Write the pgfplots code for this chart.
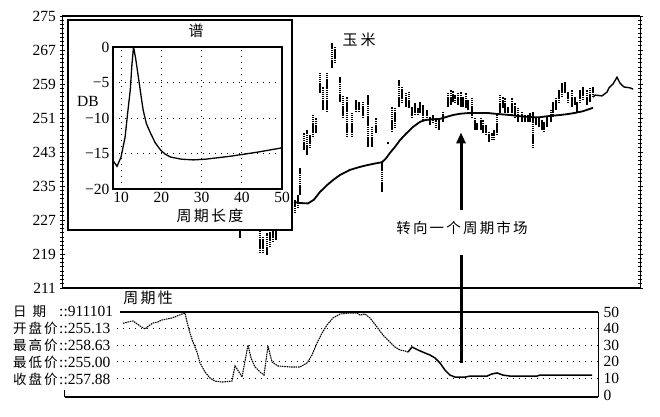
\documentclass[border=0pt]{standalone}
\usepackage{pgfplots}
\pgfplotsset{compat=1.18}
\usepackage{pgfplotstable}
\usepackage{fontspec}
\setmainfont{Liberation Serif}
\newfontfamily\cjk[LetterSpace=15]{Noto Sans CJK SC}
\usetikzlibrary{arrows.meta}

\pgfplotstableread{
x l h
240 222.8 224.6
260 219.2 224.6
263 219.2 223.0
267 218.8 223.9
270 220.6 224.2
273 221.8 224.6
276 222.3 224.6
295 228.6 231.7
298 229.8 232.9
300 232.9 239.2
304 243.5 247.5
307 242.3 248.2
310 243.9 247.0
313 246.5 251.7
316 247.5 251.0
320 256.9 261.6
323 252.9 258.3
327 252.4 261.6
332 262.8 268.6
335 263.9 267.7
340 254.8 260.6
343 251.0 256.4
347 246.5 255.9
352 246.5 252.4
356 252.4 255.2
359 252.4 254.8
363 251.0 254.8
368 244.2 256.4
372 244.2 248.9
376 247.5 251.0
382 233.6 240.6
388 244.9 245.4
392 247.7 253.6
395 248.6 253.4
399 253.6 259.9
402 254.5 258.3
406 253.6 256.9
409 253.4 257.1
412 251.0 253.6
415 251.7 254.5
418 251.7 253.4
420 252.2 254.8
423 250.5 254.1
427 250.5 252.9
430 249.4 251.2
433 249.8 251.7
436 248.6 251.0
439 248.2 251.0
443 250.1 252.4
448 253.6 256.9
451 254.1 257.6
453 254.8 257.4
455 254.5 256.4
458 254.1 256.9
461 253.6 257.1
463 253.6 255.9
466 253.4 256.9
468 252.9 255.2
472 251.0 255.9
475 248.2 251.0
477 248.2 249.8
481 248.2 251.0
483 247.5 250.5
486 247.0 249.4
489 245.4 247.7
492 245.8 247.5
494 245.8 248.2
497 247.0 251.7
500 252.2 256.4
503 253.4 255.9
505 252.2 255.7
508 251.7 253.6
512 251.7 255.7
515 251.0 254.5
518 250.1 253.4
522 250.1 252.4
525 250.1 251.7
528 250.1 251.7
530 250.1 252.2
533 243.9 252.4
536 249.4 251.2
539 248.9 251.0
542 248.2 250.5
544 247.7 250.1
547 248.9 251.2
551 250.1 252.9
553 251.2 254.8
556 252.9 255.7
559 254.5 257.6
562 255.9 259.2
565 256.9 259.5
568 254.5 257.1
572 253.6 257.6
575 254.1 255.9
577 252.2 254.8
580 254.5 257.6
583 255.2 258.3
587 254.1 257.6
590 254.8 258.1
593 255.9 258.3
}\bars

\begin{document}
\begin{tikzpicture}
\useasboundingbox (0,0) rectangle (660pt,-416pt);
% ---------- main price panel ----------
\begin{axis}[
  at={(62pt,-288pt)}, anchor=south west, scale only axis,
  width=578pt, height=272pt,
  xmin=62, xmax=640, ymin=211, ymax=275,
  xtick=\empty,
  ytick={211,219,227,235,243,251,259,267,275},
  yticklabels={211,219,227,235,243,251,259,267,275},
  minor y tick num=7,
  ytick pos=both, yticklabel pos=left,
  tick align=center, major tick length=5pt, minor tick length=3.5pt,
  every tick/.style={black, line width=0.7pt},
  separate axis lines,
  x axis line style={line width=1.8pt},
  y axis line style={line width=1pt},
  yticklabel style={font=\fontsize{15.5}{17}\selectfont},
  clip=false,
]
\addplot[line width=1.3pt, dash pattern=on 1.5pt off 0.6pt,
  quiver={u=0, v=\thisrow{h}-\thisrow{l}}] table[x=x, y=l] {\bars};
\addplot[line width=1.8pt] coordinates {
(294,231.2) (300,231.0) (308,230.9) (314,231.8) (320,233.6) (327,235.2)
(333,236.4) (340,237.6) (350,238.8) (360,239.5) (367,239.9) (375,240.3)
(382,240.6) (386,241.5) (390,242.8) (395,244.2) (400,245.8) (406,247.3)
(413,248.9) (420,250.1) (425,250.5) (432,250.7) (440,250.8) (447,251.3)
(453,251.7) (460,252.0) (470,252.2) (480,252.2) (487,252.2) (495,252.0)
(500,251.9) (510,251.7) (517,251.5) (525,251.3) (533,251.2) (540,251.2)
(550,251.5) (560,251.7) (567,251.9) (575,252.2) (583,252.6) (593,253.4)};
\addplot[line width=1.4pt] coordinates {
(593,255.9) (595,256.4) (602,256.2) (607,257.1) (609,258.1) (613,259.0)
(617,260.6) (620,259.2) (624,258.3) (630,258.1) (633,257.8)};
\draw[line width=3pt, -{Triangle[length=11pt,width=9pt]}]
  (axis cs:461,229.4) -- (axis cs:461,247.6);
\end{axis}
\node[font=\cjk\fontsize{15}{17}\selectfont] at (359pt,-40pt) {玉\hspace{3pt}米};
\node[font=\cjk\fontsize{14.5}{16}\selectfont] at (462pt,-228pt) {转向一个周期市场};

% ---------- inset spectrum ----------
\draw[fill=white, line width=1.5pt] (68pt,-20pt) rectangle (292pt,-230pt);
\begin{axis}[
  at={(113pt,-189pt)}, anchor=south west, scale only axis,
  width=169pt, height=142pt,
  xmin=8, xmax=50, ymin=-20, ymax=0,
  xtick={10,20,30,40,50}, xticklabels={10,20,30,40,50},
  ytick={-20,-15,-10,-5,0}, yticklabels={−20,−15,−10,−5,0},
  major tick length=0pt,
  grid=major, grid style={black, line width=1pt, dash pattern=on 1pt off 5pt},
  axis line style={line width=1.2pt},
  ticklabel style={font=\fontsize{15.5}{17}\selectfont},
]
\addplot[line width=1.3pt] coordinates {
(8,-16) (9,-16.8) (10,-15.5) (11,-12.7) (11.7,-9) (12.3,-6) (12.7,-2.5)
(13.1,0) (13.6,-1.5) (14.3,-4.2) (15,-7) (15.5,-8.9) (16.3,-10.8)
(17.3,-12.1) (18.5,-13.5) (19.8,-14.5) (21,-15.1) (22.3,-15.5) (25,-15.8)
(28,-15.9) (31,-15.8) (34,-15.6) (37,-15.4) (40.5,-15.1) (44,-14.8)
(47,-14.5) (50,-14.2)};
\end{axis}
\node[font=\cjk\fontsize{15}{17}\selectfont] at (196pt,-31pt) {谱};
\node[font=\fontsize{15.5}{17}\selectfont] at (88pt,-101pt) {DB};
\node[font=\cjk\fontsize{15}{17}\selectfont] at (210pt,-216pt) {周期长度};

% ---------- lower cycle panel ----------
\begin{axis}[
  at={(117pt,-397pt)}, anchor=south west, scale only axis,
  width=481pt, height=85pt,
  xmin=117, xmax=598, ymin=-1.2, ymax=50,
  axis line style={draw=none},
  xtick=\empty,
  ytick={0,10,20,30,40,50}, yticklabels={0,10,20,30,40,50},
  ytick pos=right, yticklabel pos=right,
  major tick length=0pt,
  yticklabel style={font=\fontsize{15.5}{17}\selectfont, xshift=2pt},
  clip=false,
]
\foreach \g in {10,20,30,40} {
  \edef\tmp{\noexpand\draw[black, line width=1pt, dash pattern=on 1pt off 5pt] (axis cs:117,\g) -- (axis cs:598,\g);}
  \tmp
}
\draw[line width=1.8pt] (axis cs:120,50) -- (axis cs:598,50);
\draw[line width=1pt] (axis cs:598,50) -- (axis cs:598,-1.2);
\draw[line width=1.8pt] (axis cs:65,-1.2) -- (axis cs:598,-1.2);
\draw[line width=1pt] (axis cs:65,-1.2) -- (axis cs:65,3);
\addplot[line width=1.1pt, dash pattern=on 1.5pt off 0.8pt] coordinates {
(123,43.2) (128,44) (133,44.6) (140,41.6) (145,39.8) (150,42.2) (153,43.4)
(158,44) (162,45.2) (167,45.8) (172,46.4) (177,47.6) (182,48.8) (185,49.4)
(187,44) (190,37.3) (193,31.9) (197,25.9) (200,19.3) (205,13.9) (210,10.2)
(215,8.4) (222,7.8) (232,8.4) (235,17.5) (239,13.9) (242,10.8) (248,30.1)
(251,22.3) (255,16.9) (260,13.9) (264,12) (268,29.5) (272,19.9) (278,17.5)
(290,16.9) (300,16.9) (307,19.3) (312,24.1) (317,31.3) (322,37.3) (327,42.2)
(333,46.4) (340,48.8) (350,49.4) (357,49.4) (360,48.2) (365,48.8) (370,46.4)
(377,41) (383,36.1) (390,31.9) (395,28.9) (400,27.1) (405,26.5) (408,25.9)};
\addplot[line width=1.5pt] coordinates {
(408,25.9) (412,28.9) (418,27.1) (425,25.3) (430,24.1) (435,22.3) (440,19.3)
(445,15) (450,12) (455,10.8) (465,10.8) (470,11.4) (487,11.4) (492,12.7)
(497,13.3) (503,12) (510,11.4) (537,11.4) (540,12) (592,12)};
\draw[line width=3pt] (axis cs:461,19.3) -- (axis cs:461,84.3);
\end{axis}
\node[font=\cjk\fontsize{15}{17}\selectfont] at (148pt,-298pt) {周期性};
\begin{scope}[every node/.style={anchor=west, inner sep=0pt}]
\node[font=\cjk\fontsize{13.5}{15}\selectfont] at (13pt,-311pt) {日\hspace{6pt}期};
\node[font=\cjk\fontsize{13.5}{15}\selectfont] at (13pt,-328pt) {开盘价};
\node[font=\cjk\fontsize{13.5}{15}\selectfont] at (13pt,-345pt) {最高价};
\node[font=\cjk\fontsize{13.5}{15}\selectfont] at (13pt,-362pt) {最低价};
\node[font=\cjk\fontsize{13.5}{15}\selectfont] at (13pt,-379pt) {收盘价};
\node[font=\fontsize{15.5}{17}\selectfont] at (59pt,-311pt) {::911101};
\node[font=\fontsize{15.5}{17}\selectfont] at (59pt,-328pt) {::255.13};
\node[font=\fontsize{15.5}{17}\selectfont] at (59pt,-345pt) {::258.63};
\node[font=\fontsize{15.5}{17}\selectfont] at (59pt,-362pt) {::255.00};
\node[font=\fontsize{15.5}{17}\selectfont] at (59pt,-379pt) {::257.88};
\end{scope}
\end{tikzpicture}
\end{document}
